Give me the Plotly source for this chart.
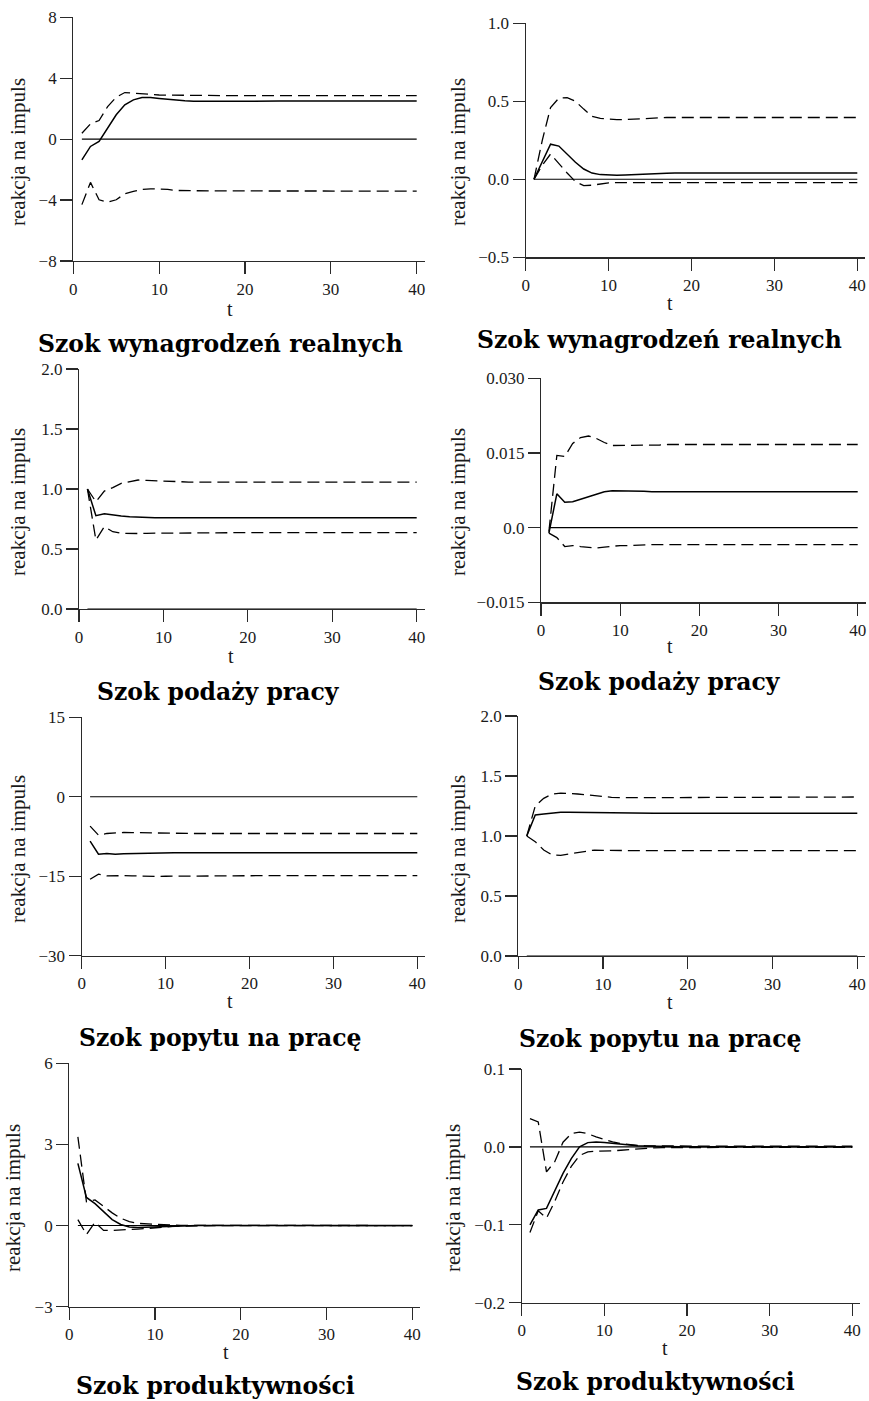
import plotly.graph_objects as go

T = list(range(1, 41))
ZERO = [0.0] * 40

# ---------- data ----------
# Panel 1: Szok wynagrodzeń realnych (left)
p1_irf = [-1.36, -0.48, -0.15, 0.72, 1.60, 2.25, 2.58, 2.73, 2.73, 2.67,
          2.61, 2.56, 2.52, 2.49, 2.48, 2.48, 2.48, 2.49, 2.49, 2.50,
          2.50, 2.50, 2.50, 2.50, 2.50, 2.50, 2.50, 2.50, 2.50, 2.50,
          2.50, 2.50, 2.50, 2.50, 2.50, 2.50, 2.50, 2.50, 2.50, 2.50]
p1_hi = [0.39, 1.00, 1.22, 2.14, 2.75, 3.06, 3.02, 2.97, 2.93, 2.90,
         2.89, 2.88, 2.87, 2.87, 2.86, 2.86, 2.86, 2.86, 2.86, 2.86,
         2.86, 2.86, 2.86, 2.86, 2.86, 2.86, 2.86, 2.86, 2.86, 2.86,
         2.86, 2.86, 2.86, 2.86, 2.86, 2.86, 2.86, 2.86, 2.86, 2.86]
p1_lo = [-4.30, -2.84, -3.98, -4.13, -3.98, -3.58, -3.43, -3.30, -3.26, -3.26,
         -3.30, -3.37, -3.39, -3.39, -3.39, -3.40, -3.40, -3.40, -3.40, -3.40,
         -3.40, -3.40, -3.40, -3.40, -3.40, -3.40, -3.40, -3.40, -3.40, -3.40,
         -3.41, -3.41, -3.41, -3.41, -3.41, -3.41, -3.41, -3.41, -3.41, -3.41]

# Panel 2: Szok wynagrodzeń realnych (right)
p2_irf = [0.000, 0.113, 0.225, 0.213, 0.162, 0.109, 0.066, 0.040, 0.030, 0.026,
          0.026, 0.028, 0.031, 0.034, 0.036, 0.038, 0.039, 0.040, 0.040, 0.040,
          0.040, 0.040, 0.040, 0.040, 0.040, 0.040, 0.040, 0.040, 0.040, 0.040,
          0.040, 0.040, 0.040, 0.040, 0.040, 0.040, 0.040, 0.040, 0.040, 0.040]
p2_hi = [0.000, 0.250, 0.460, 0.520, 0.523, 0.500, 0.450, 0.404, 0.390, 0.385,
         0.383, 0.383, 0.386, 0.390, 0.393, 0.396, 0.396, 0.396, 0.396, 0.396,
         0.396, 0.396, 0.396, 0.396, 0.396, 0.396, 0.396, 0.396, 0.396, 0.396,
         0.396, 0.396, 0.396, 0.396, 0.396, 0.396, 0.396, 0.396, 0.396, 0.396]
p2_lo = [0.000, 0.090, 0.162, 0.100, 0.040, -0.015, -0.040, -0.038, -0.030, -0.023,
         -0.021, -0.021, -0.021, -0.021, -0.021, -0.021, -0.021, -0.021, -0.021, -0.021,
         -0.021, -0.021, -0.021, -0.021, -0.021, -0.021, -0.021, -0.021, -0.021, -0.021,
         -0.021, -0.021, -0.021, -0.021, -0.021, -0.021, -0.021, -0.021, -0.021, -0.021]

# Panel 3: Szok podaży pracy (left)
p3_irf = [1.000, 0.778, 0.794, 0.783, 0.775, 0.769, 0.764, 0.761, 0.760, 0.760,
          0.760, 0.761, 0.761, 0.761, 0.761, 0.761, 0.761, 0.761, 0.761, 0.761,
          0.761, 0.761, 0.761, 0.761, 0.761, 0.761, 0.761, 0.761, 0.761, 0.761,
          0.761, 0.761, 0.761, 0.761, 0.761, 0.761, 0.761, 0.761, 0.761, 0.761]
p3_hi = [1.000, 0.894, 0.983, 1.011, 1.047, 1.064, 1.075, 1.072, 1.068, 1.064,
         1.061, 1.058, 1.058, 1.058, 1.058, 1.058, 1.058, 1.058, 1.058, 1.058,
         1.058, 1.058, 1.058, 1.058, 1.058, 1.058, 1.058, 1.058, 1.058, 1.058,
         1.058, 1.058, 1.058, 1.058, 1.058, 1.058, 1.058, 1.058, 1.058, 1.058]
p3_lo = [1.000, 0.575, 0.686, 0.644, 0.631, 0.628, 0.629, 0.631, 0.632, 0.633,
         0.634, 0.635, 0.635, 0.636, 0.636, 0.636, 0.636, 0.636, 0.636, 0.636,
         0.636, 0.636, 0.636, 0.636, 0.636, 0.636, 0.636, 0.636, 0.636, 0.636,
         0.636, 0.636, 0.636, 0.636, 0.636, 0.636, 0.636, 0.636, 0.636, 0.636]

# Panel 4: Szok podaży pracy (right)
p4_irf = [-0.0011, 0.0068, 0.0051, 0.0052, 0.0057, 0.0062, 0.0068, 0.0072, 0.0074, 0.0074,
          0.0074, 0.0073, 0.0073, 0.0072, 0.0072, 0.0072, 0.0072, 0.0072, 0.0072, 0.0072,
          0.0072, 0.0072, 0.0072, 0.0072, 0.0072, 0.0072, 0.0072, 0.0072, 0.0072, 0.0072,
          0.0072, 0.0072, 0.0072, 0.0072, 0.0072, 0.0072, 0.0072, 0.0072, 0.0072, 0.0072]
p4_hi = [-0.0008, 0.0145, 0.0143, 0.0169, 0.0181, 0.0184, 0.0179, 0.0171, 0.0165, 0.0165,
         0.0165, 0.0165, 0.0166, 0.0166, 0.0166, 0.0167, 0.0167, 0.0167, 0.0167, 0.0167,
         0.0167, 0.0167, 0.0167, 0.0167, 0.0167, 0.0167, 0.0167, 0.0167, 0.0167, 0.0167,
         0.0167, 0.0167, 0.0167, 0.0167, 0.0167, 0.0167, 0.0167, 0.0167, 0.0167, 0.0167]
p4_lo = [-0.0011, -0.0020, -0.0038, -0.0036, -0.0038, -0.0040, -0.0041, -0.0039, -0.0037, -0.0036,
         -0.0036, -0.0035, -0.0035, -0.0034, -0.0034, -0.0034, -0.0034, -0.0034, -0.0034, -0.0034,
         -0.0034, -0.0034, -0.0034, -0.0034, -0.0034, -0.0034, -0.0034, -0.0034, -0.0034, -0.0034,
         -0.0034, -0.0034, -0.0034, -0.0034, -0.0034, -0.0034, -0.0034, -0.0034, -0.0034, -0.0034]

# Panel 5: Szok popytu na pracę (left)
p5_irf = [-8.38, -10.84, -10.71, -10.84, -10.77, -10.72, -10.68, -10.65, -10.62, -10.60,
          -10.59, -10.59, -10.59, -10.59, -10.59, -10.59, -10.59, -10.59, -10.59, -10.59,
          -10.59, -10.59, -10.59, -10.59, -10.59, -10.59, -10.59, -10.59, -10.59, -10.59,
          -10.59, -10.59, -10.59, -10.59, -10.59, -10.59, -10.59, -10.59, -10.59, -10.59]
p5_hi = [-5.54, -7.25, -6.93, -6.80, -6.74, -6.76, -6.80, -6.85, -6.89, -6.93,
         -6.93, -6.93, -6.93, -6.93, -6.93, -6.93, -6.93, -6.93, -6.93, -6.93,
         -6.93, -6.93, -6.93, -6.93, -6.93, -6.93, -6.93, -6.93, -6.93, -6.93,
         -6.93, -6.93, -6.93, -6.93, -6.93, -6.93, -6.93, -6.93, -6.93, -6.93]
p5_lo = [-15.56, -14.62, -14.93, -14.87, -14.90, -14.93, -15.00, -15.06, -15.03, -15.00,
         -14.98, -14.96, -14.95, -14.94, -14.93, -14.92, -14.91, -14.90, -14.90, -14.89,
         -14.89, -14.88, -14.88, -14.88, -14.88, -14.87, -14.87, -14.87, -14.87, -14.87,
         -14.87, -14.87, -14.87, -14.87, -14.87, -14.87, -14.87, -14.87, -14.87, -14.87]

# Panel 6: Szok popytu na pracę (right)
p6_irf = [1.000, 1.175, 1.183, 1.192, 1.197, 1.197, 1.196, 1.194, 1.191, 1.189,
          1.189, 1.189, 1.189, 1.189, 1.189, 1.189, 1.189, 1.189, 1.189, 1.189,
          1.189, 1.189, 1.189, 1.189, 1.189, 1.189, 1.189, 1.189, 1.189, 1.189,
          1.189, 1.189, 1.189, 1.189, 1.189, 1.189, 1.189, 1.189, 1.189, 1.189]
p6_hi = [1.000, 1.250, 1.314, 1.350, 1.358, 1.356, 1.350, 1.344, 1.336, 1.328,
         1.322, 1.319, 1.319, 1.320, 1.322, 1.324, 1.325, 1.325, 1.325, 1.325,
         1.325, 1.325, 1.325, 1.325, 1.325, 1.325, 1.325, 1.325, 1.325, 1.325,
         1.325, 1.325, 1.325, 1.325, 1.325, 1.325, 1.325, 1.325, 1.325, 1.325]
p6_lo = [1.000, 0.953, 0.883, 0.842, 0.839, 0.850, 0.864, 0.875, 0.883, 0.881,
         0.879, 0.878, 0.878, 0.878, 0.878, 0.878, 0.878, 0.878, 0.878, 0.878,
         0.878, 0.878, 0.878, 0.878, 0.878, 0.878, 0.878, 0.878, 0.878, 0.878,
         0.878, 0.878, 0.878, 0.878, 0.878, 0.878, 0.878, 0.878, 0.878, 0.878]

# Panel 7: Szok produktywności (left)
p7_irf = [2.30, 1.04, 0.81, 0.51, 0.22, 0.04, -0.05, -0.07, -0.06, -0.04,
          -0.02, -0.01, 0.00, 0.00, 0.00, 0.00, 0.00, 0.00, 0.00, 0.00,
          0.00, 0.00, 0.00, 0.00, 0.00, 0.00, 0.00, 0.00, 0.00, 0.00,
          0.00, 0.00, 0.00, 0.00, 0.00, 0.00, 0.00, 0.00, 0.00, 0.00]
p7_hi = [3.28, 0.88, 0.95, 0.71, 0.47, 0.27, 0.15, 0.08, 0.06, 0.04,
         0.03, 0.02, 0.01, 0.01, 0.00, 0.00, 0.00, 0.00, 0.00, 0.00,
         0.00, 0.00, 0.00, 0.00, 0.00, 0.00, 0.00, 0.00, 0.00, 0.00,
         0.00, 0.00, 0.00, 0.00, 0.00, 0.00, 0.00, 0.00, 0.00, 0.00]
p7_lo = [0.22, -0.33, 0.12, -0.18, -0.18, -0.17, -0.15, -0.13, -0.11, -0.08,
         -0.05, -0.03, -0.02, -0.01, 0.00, 0.00, 0.00, 0.00, 0.00, 0.00,
         0.00, 0.00, 0.00, 0.00, 0.00, 0.00, 0.00, 0.00, 0.00, 0.00,
         0.00, 0.00, 0.00, 0.00, 0.00, 0.00, 0.00, 0.00, 0.00, 0.00]

# Panel 8: Szok produktywności (right)
p8_irf = [-0.100, -0.081, -0.079, -0.0575, -0.034, -0.015, 0.000, 0.0055, 0.0064, 0.0055,
          0.0043, 0.0030, 0.0021, 0.0014, 0.0010, 0.0006, 0.0005, 0.0004, 0.0003, 0.0003,
          0.0003, 0.0003, 0.0003, 0.0003, 0.0003, 0.0003, 0.0003, 0.0003, 0.0003, 0.0003,
          0.0003, 0.0003, 0.0003, 0.0003, 0.0003, 0.0003, 0.0003, 0.0003, 0.0003, 0.0003]
p8_hi = [0.0362, 0.0320, -0.0320, -0.0190, 0.0060, 0.0170, 0.0190, 0.0170, 0.0128, 0.0094,
         0.0064, 0.0043, 0.0026, 0.0018, 0.0014, 0.0012, 0.0011, 0.0010, 0.0010, 0.0010,
         0.0010, 0.0010, 0.0010, 0.0010, 0.0010, 0.0010, 0.0010, 0.0010, 0.0010, 0.0010,
         0.0010, 0.0010, 0.0010, 0.0010, 0.0010, 0.0010, 0.0010, 0.0010, 0.0010, 0.0010]
p8_lo = [-0.110, -0.082, -0.0915, -0.070, -0.045, -0.025, -0.011, -0.0064, -0.0055, -0.0055,
         -0.0050, -0.0043, -0.0034, -0.0025, -0.0017, -0.0012, -0.0009, -0.0008, -0.0007, -0.0006,
         -0.0006, -0.0006, -0.0006, -0.0006, -0.0006, -0.0006, -0.0006, -0.0006, -0.0006, -0.0006,
         -0.0006, -0.0006, -0.0006, -0.0006, -0.0006, -0.0006, -0.0006, -0.0006, -0.0006, -0.0006]

# ---------- tick values / labels ----------
x_tickvals = [0, 10, 20, 30, 40]
x_ticktext = ["0", "10", "20", "30", "40"]

p1_yt = [-8, -4, 0, 4, 8]
p1_yl = ["\u22128", "\u22124", "0", "4", "8"]
p2_yt = [-0.5, 0.0, 0.5, 1.0]
p2_yl = ["\u22120.5", "0.0", "0.5", "1.0"]
p3_yt = [0.0, 0.5, 1.0, 1.5, 2.0]
p3_yl = ["0.0", "0.5", "1.0", "1.5", "2.0"]
p4_yt = [-0.015, 0.0, 0.015, 0.030]
p4_yl = ["\u22120.015", "0.0", "0.015", "0.030"]
p5_yt = [-30, -15, 0, 15]
p5_yl = ["\u221230", "\u221215", "0", "15"]
p6_yt = [0.0, 0.5, 1.0, 1.5, 2.0]
p6_yl = ["0.0", "0.5", "1.0", "1.5", "2.0"]
p7_yt = [-3, 0, 3, 6]
p7_yl = ["\u22123", "0", "3", "6"]
p8_yt = [-0.2, -0.1, 0.0, 0.1]
p8_yl = ["\u22120.2", "\u22120.1", "0.0", "0.1"]

titles = ["Szok wynagrodzeń realnych", "Szok wynagrodzeń realnych",
          "Szok podaży pracy", "Szok podaży pracy",
          "Szok popytu na pracę", "Szok popytu na pracę",
          "Szok produktywności", "Szok produktywności"]
y_title = "reakcja na impuls"
x_title = "t"

panels = [
    (p1_irf, p1_hi, p1_lo, p1_yt, p1_yl),
    (p2_irf, p2_hi, p2_lo, p2_yt, p2_yl),
    (p3_irf, p3_hi, p3_lo, p3_yt, p3_yl),
    (p4_irf, p4_hi, p4_lo, p4_yt, p4_yl),
    (p5_irf, p5_hi, p5_lo, p5_yt, p5_yl),
    (p6_irf, p6_hi, p6_lo, p6_yt, p6_yl),
    (p7_irf, p7_hi, p7_lo, p7_yt, p7_yl),
    (p8_irf, p8_hi, p8_lo, p8_yt, p8_yl),
]

# ---------- layout geometry (pixels) ----------
W, H = 869, 1401
# (x of t=0, x of t=40, y of top tick, y of bottom tick)
geom = [
    (73.3, 416.7, 17.3, 261.0),
    (525.7, 857.3, 23.3, 257.3),
    (79.0, 416.7, 369.0, 609.0),
    (541.0, 857.7, 378.3, 602.3),
    (81.7, 417.3, 717.3, 955.7),
    (518.3, 857.3, 716.0, 956.0),
    (69.3, 412.3, 1063.3, 1306.7),
    (521.7, 852.3, 1069.0, 1302.7),
]
# label positions: (ytitle x, ytitle y, t x, t y, title x, title y)
labpos = [
    (18, 152, 230, 309, 220, 344),
    (458, 152, 670, 303, 659, 340),
    (18, 502, 231, 656, 218, 692),
    (458, 502, 670, 646, 659, 682),
    (18, 849, 230, 1001, 220, 1038),
    (458, 849, 670, 1002, 660, 1039),
    (13, 1198, 226, 1352, 215, 1386),
    (453, 1198, 665, 1348, 655, 1382),
]

SERIF = "Liberation Serif, Tinos, Times New Roman, Nimbus Roman, DejaVu Serif, serif"
AX = "#2a2a2a"
TXT = "#1a1a1a"

fig = go.Figure()
layout = dict(width=W, height=H, margin=dict(l=0, r=0, t=0, b=0, pad=0, autoexpand=False),
              paper_bgcolor="white", plot_bgcolor="white", showlegend=False,
              hovermode=False, annotations=[])

for i, ((irf, hi, lo, yt, yl), (x0, x40, yt_px, yb_px), lp, ttl) in enumerate(
        zip(panels, geom, labpos, titles)):
    k = "" if i == 0 else str(i + 1)
    xr, yr = "x" + k, "y" + k
    pxu = (x40 - x0) / 40.0
    xmax = 40 + 8.0 / pxu
    xdom = [x0 / W, (x0 + xmax * pxu) / W]
    ydom = [1 - yb_px / H, 1 - yt_px / H]

    fig.add_trace(go.Scatter(x=T, y=ZERO, mode="lines", xaxis=xr, yaxis=yr,
                             line=dict(color="black", width=1.1), hoverinfo="skip"))
    for ser in (hi, lo):
        fig.add_trace(go.Scatter(x=T, y=ser, mode="lines", xaxis=xr, yaxis=yr,
                                 line=dict(color="black", width=1.3, dash="12px,6px"),
                                 hoverinfo="skip"))
    fig.add_trace(go.Scatter(x=T, y=irf, mode="lines", xaxis=xr, yaxis=yr,
                             line=dict(color="black", width=1.5), hoverinfo="skip"))

    common = dict(showgrid=False, zeroline=False, showline=True, automargin=False,
                  linecolor=AX, linewidth=1.2, ticks="outside",
                  ticklen=12, tickwidth=1.2, tickcolor=AX, fixedrange=True,
                  tickfont=dict(family=SERIF, size=17, color=TXT))
    layout["xaxis" + k] = dict(domain=xdom, range=[0, xmax], anchor=yr,
                               tickvals=x_tickvals, ticktext=x_ticktext, **common)
    layout["yaxis" + k] = dict(domain=ydom, range=[yt[0], yt[-1]], anchor=xr,
                               tickvals=yt, ticktext=yl, **common)

    ytx, yty, tx, ty, hx, hy = lp
    layout["annotations"].append(dict(text=y_title, x=ytx / W, y=1 - yty / H,
                                      xref="paper", yref="paper", showarrow=False,
                                      textangle=-90, xanchor="center", yanchor="middle",
                                      font=dict(family=SERIF, size=21, color=TXT)))
    layout["annotations"].append(dict(text=x_title, x=tx / W, y=1 - ty / H,
                                      xref="paper", yref="paper", showarrow=False,
                                      xanchor="center", yanchor="middle",
                                      font=dict(family=SERIF, size=20, color=TXT)))
    layout["annotations"].append(dict(text="<b>" + ttl + "</b>", x=hx / W, y=1 - hy / H,
                                      xref="paper", yref="paper", showarrow=False,
                                      xanchor="center", yanchor="middle",
                                      font=dict(family="DejaVu Serif", size=23.5, color="black")))

fig.update_layout(**layout)
fig.write_html("out.html", config={"displayModeBar": False, "staticPlot": True},
               post_script="document.body.style.margin='0';document.body.style.padding='0';")
